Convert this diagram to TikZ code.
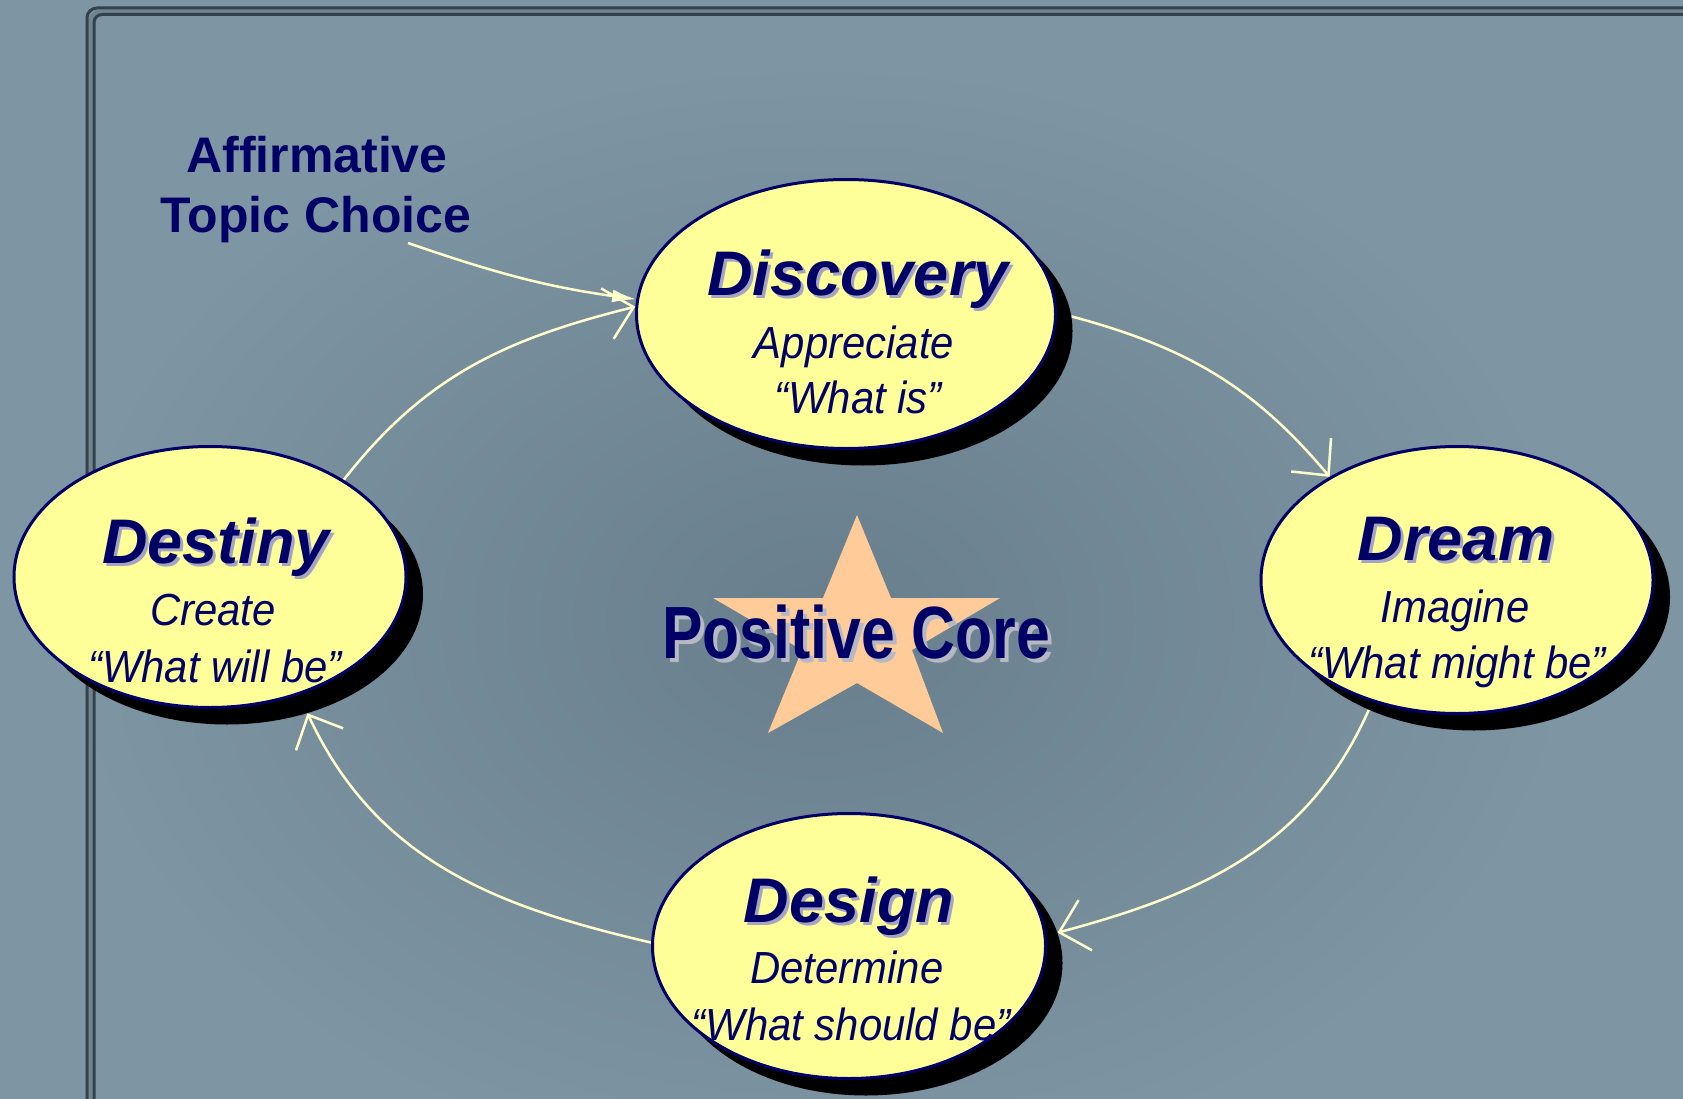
\documentclass[tikz,border=0pt]{standalone}
\usepackage{fontspec}
\setmainfont{Liberation Sans}
\newfontfamily\subfont{Liberation Sans}[FakeStretch=0.93]
\newfontfamily\corefont{Liberation Sans}[FakeStretch=0.82]
\usetikzlibrary{shapes.geometric,arrows.meta}

\definecolor{navy}{RGB}{0,0,102}
\definecolor{paleyellow}{RGB}{255,255,153}
\definecolor{cream}{RGB}{255,255,204}
\definecolor{peach}{RGB}{255,204,153}
\definecolor{bgblue}{RGB}{126,149,163}
\definecolor{bgdeep}{RGB}{104,126,140}
\definecolor{txtshadow}{RGB}{165,165,195}
\definecolor{coreshadow}{RGB}{182,184,196}
\definecolor{framedark}{RGB}{52,64,74}
\definecolor{framelight}{RGB}{112,132,144}

% text with a light cast shadow behind it
\newcommand\castshadow[3]{\leavevmode\rlap{\kern#2\raisebox{-#2}{\color{#1}#3}}#3}

\pgfdeclarelayer{back}
\pgfsetlayers{back,main}

\tikzset{
  stage/.style={ellipse, draw=navy, line width=3pt, fill=paleyellow, inner sep=0pt},
  stageshadow/.style={ellipse, fill=black, inner sep=0pt},
  stagetitle/.style={anchor=base, inner sep=0pt, text=navy,
    font=\fontsize{63}{70}\selectfont\bfseries\itshape},
  stagesub/.style={anchor=base, inner sep=0pt, text=navy,
    font=\subfont\fontsize{45}{50}\selectfont\itshape},
  topic/.style={anchor=base, inner sep=0pt, text=navy,
    font=\fontsize{50}{60}\selectfont\bfseries},
  flow/.style={draw=cream, line width=2.5pt,
    -{Straight Barb[length=27pt,width=52pt]}},
  feed/.style={draw=cream, line width=2.5pt,
    -{Latex[length=24pt,width=13pt]}},
}

\begin{document}
\begin{tikzpicture}[x=1pt,y=1pt]
\useasboundingbox (0,0) rectangle (1683,-1099);
\clip (0,0) rectangle (1683,-1099);

% ---- stages: cast shadows first, then the ellipses ----
\node[stageshadow, minimum width=419pt, minimum height=269pt] (discS) at (863,-331) {};
\node[stageshadow, minimum width=392pt, minimum height=267pt] (dreamS) at (1474,-597) {};
\node[stageshadow, minimum width=393pt, minimum height=265pt] (designS) at (866,-963) {};
\node[stageshadow, minimum width=392pt, minimum height=261pt] (destinyS) at (227,-594) {};

\node[stage, minimum width=419pt, minimum height=269pt] (disc) at (846,-314) {};
\node[stage, minimum width=392pt, minimum height=267pt] (dream) at (1457,-580) {};
\node[stage, minimum width=393pt, minimum height=265pt] (design) at (849,-946) {};
\node[stage, minimum width=392pt, minimum height=261pt] (destiny) at (210,-577) {};

% ---- backdrop, frame and cycle arrows ----
\begin{pgfonlayer}{back}
  \fill[bgblue] (0,0) rectangle (1683,-1099);
  \shade[inner color=bgdeep, outer color=bgblue] (820,-620) ellipse (760 and 560);
  \draw[framelight, line width=4pt, rounded corners=10pt]
    (90.5,-1110) -- (90.5,-11.5) -- (1700,-11.5);
  \draw[framedark, line width=3pt, rounded corners=10pt]
    (87,-1110) -- (87,-8) -- (1700,-8);
  \draw[framedark, line width=3pt, rounded corners=8pt]
    (94,-1110) -- (94,-14.5) -- (1700,-14.5);

  \draw[flow] (discS.4)   to[out=-15, in=130]  (dream.141);
  \draw[flow] (dreamS.227) to[out=-114, in=15] (designS.9);
  \draw[flow] (design.179) to[out=167, in=-65] (destinyS.-56);
  \draw[flow] (destiny.36) to[out=52, in=194]  (disc.178);

  \coordinate (topicend) at (408,-243);
  \draw[feed] (topicend) to[out=-19, in=172] (disc.176);
\end{pgfonlayer}

% ---- stage labels ----
\node[stagetitle] (discT) at (858,-295) {\castshadow{txtshadow}{3pt}{Discovery}};
\node[stagesub] (discA) at (854,-358) {Appreciate};
\node[stagesub] (discB) at (858,-413) {“What is”};

\node[stagetitle] (dreamT) at (1456,-560) {\castshadow{txtshadow}{3pt}{Dream}};
\node[stagesub] (dreamA) at (1455,-622) {Imagine};
\node[stagesub] (dreamB) at (1457,-678) {“What might be”};

\node[stagetitle] (designT) at (849,-922) {\castshadow{txtshadow}{3pt}{Design}};
\node[stagesub] (designA) at (847,-983) {Determine};
\node[stagesub] (designB) at (851,-1040) {“What should be”};

\node[stagetitle] (destinyT) at (216,-563) {\castshadow{txtshadow}{3pt}{Destiny}};
\node[stagesub] (destinyA) at (213,-625) {Create};
\node[stagesub] (destinyB) at (215,-682) {“What will be”};

% ---- positive core ----
\fill[peach] (857,-515) -- (891,-598) -- (1000,-598) -- (912,-650) -- (943,-733)
  -- (857,-683) -- (768,-733) -- (802,-650) -- (713,-598) -- (823,-598) -- cycle;
\node[anchor=base, inner sep=0pt, text=navy,
  font=\corefont\fontsize{74}{80}\selectfont\bfseries] (core) at (856,-658)
  {\castshadow{coreshadow}{4pt}{Positive Core}};

% ---- topic choice label ----
\node[topic] (topicA) at (317,-173) {Affirmative};
\node[topic] (topicB) at (316,-233) {Topic Choice};
\end{tikzpicture}
\end{document}
